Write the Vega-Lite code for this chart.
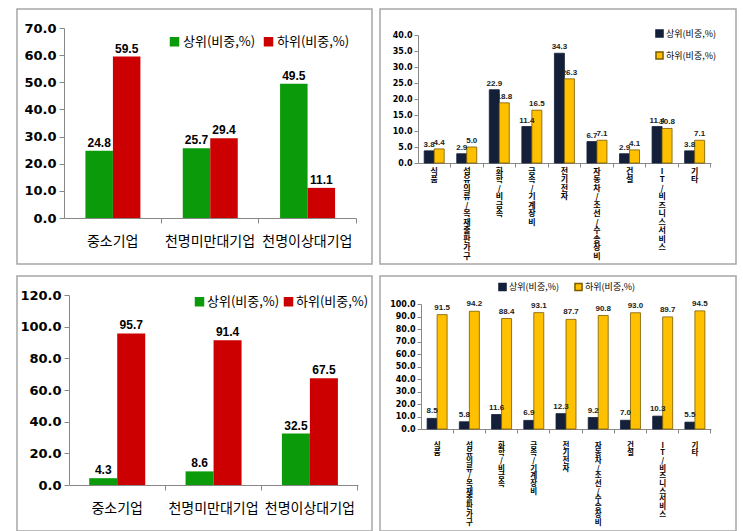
{
  "$schema": "https://vega.github.io/schema/vega-lite/v6.json",
  "padding": {"left": 16, "top": 8, "right": 0, "bottom": 0},
  "spacing": 10,
  "config": {
    "view": {"stroke": "#a6a6a6", "strokeWidth": 1.5},
    "axis": {"grid": false, "domainColor": "#888888", "tickColor": "#888888", "labelColor": "#000000", "title": null},
    "font": "Noto Sans CJK KR",
    "concat": {"spacing": 6}
  },
  "resolve": {"scale": {"color": "independent", "stroke": "independent", "x": "independent", "y": "independent", "xOffset": "independent"}, "legend": {"color": "independent", "stroke": "independent"}},
  "vconcat": [
    {
      "spacing": 6,
      "resolve": {"scale": {"color": "independent", "stroke": "independent", "x": "independent", "y": "independent", "xOffset": "independent"}, "legend": {"color": "independent", "stroke": "independent"}},
      "hconcat": [
        {
          "width": 355, "height": 255,
          "data": {"values": [
            {"cat": "중소기업", "s": "상위(비중,%)", "v": 24.8},
            {"cat": "중소기업", "s": "하위(비중,%)", "v": 59.5},
            {"cat": "천명미만대기업", "s": "상위(비중,%)", "v": 25.7},
            {"cat": "천명미만대기업", "s": "하위(비중,%)", "v": 29.4},
            {"cat": "천명이상대기업", "s": "상위(비중,%)", "v": 49.5},
            {"cat": "천명이상대기업", "s": "하위(비중,%)", "v": 11.1}
          ]},
          "resolve": {"axis": {"x": "independent"}},
          "encoding": {
            "y": {"field": "v", "type": "quantitative",
              "scale": {"domain": [0, 70], "range": [209, 19], "nice": false},
              "axis": {"offset": -47, "values": [0, 10, 20, 30, 40, 50, 60, 70], "format": ".1f", "labelFont": "DejaVu Sans", "labelFontWeight": "bold", "labelFontSize": 13, "tickSize": 5, "labelPadding": 3}},
            "xOffset": {"field": "s", "type": "nominal", "sort": "ascending", "scale": {"range": [0, 55], "paddingInner": 0, "paddingOuter": 0}}
          },
          "layer": [
            {"mark": {"type": "bar"},
             "encoding": {
               "x": {"field": "cat", "type": "nominal", "sort": null,
                 "scale": {"range": [47, 339], "paddingInner": 0.44, "paddingOuter": 0.22},
                 "axis": {"orient": "bottom", "offset": -46, "labelAngle": 0, "labelFontSize": 14, "labelFont": "Noto Sans CJK KR", "labelPadding": 16, "ticks": false, "labelBaseline": "top"}},
               "color": {"field": "s", "type": "nominal", "scale": {"range": ["#0a9a0a", "#cc0000"]},
               "legend": {"orient": "none", "legendX": 151, "legendY": 26, "direction": "horizontal", "title": null, "symbolType": "square", "symbolSize": 90, "symbolStrokeWidth": 0, "labelFontSize": 13, "labelFont": "Noto Sans CJK KR", "columnPadding": 6, "labelOffset": 2}}}},
            {"mark": {"type": "text", "dy": -8, "font": "Liberation Sans", "fontWeight": "bold", "fontSize": 12, "color": "#000"},
             "encoding": {
               "x": {"field": "cat", "type": "nominal", "sort": null,
                 "axis": {"orient": "bottom", "offset": -46, "labels": false, "domain": false, "ticks": true, "tickSize": 5, "bandPosition": 1.393}},
               "text": {"field": "v", "type": "quantitative", "format": ".1f"}}}
          ]
        },
        {
          "width": 356, "height": 255,
          "data": {"values": [
            {"cat": "식품", "s": "상위(비중,%)", "v": 3.8}, {"cat": "식품", "s": "하위(비중,%)", "v": 4.4},
            {"cat": "섬유의류/목재출판가구", "s": "상위(비중,%)", "v": 2.9}, {"cat": "섬유의류/목재출판가구", "s": "하위(비중,%)", "v": 5.0},
            {"cat": "화학/비금속", "s": "상위(비중,%)", "v": 22.9}, {"cat": "화학/비금속", "s": "하위(비중,%)", "v": 18.8},
            {"cat": "금속/기계장비", "s": "상위(비중,%)", "v": 11.4}, {"cat": "금속/기계장비", "s": "하위(비중,%)", "v": 16.5},
            {"cat": "전기전자", "s": "상위(비중,%)", "v": 34.3}, {"cat": "전기전자", "s": "하위(비중,%)", "v": 26.3},
            {"cat": "자동차/조선/수송장비", "s": "상위(비중,%)", "v": 6.7}, {"cat": "자동차/조선/수송장비", "s": "하위(비중,%)", "v": 7.1},
            {"cat": "건설", "s": "상위(비중,%)", "v": 2.9}, {"cat": "건설", "s": "하위(비중,%)", "v": 4.1},
            {"cat": "IT/비즈니스서비스", "s": "상위(비중,%)", "v": 11.4}, {"cat": "IT/비즈니스서비스", "s": "하위(비중,%)", "v": 10.8},
            {"cat": "기타", "s": "상위(비중,%)", "v": 3.8}, {"cat": "기타", "s": "하위(비중,%)", "v": 7.1}
          ]},
          "resolve": {"axis": {"x": "independent"}},
          "encoding": {
            "y": {"field": "v", "type": "quantitative",
              "scale": {"domain": [0, 40], "range": [154, 26], "nice": false},
              "axis": {"offset": -38, "values": [0, 5, 10, 15, 20, 25, 30, 35, 40], "format": ".1f", "labelFont": "DejaVu Sans", "labelFontWeight": "bold", "labelFontSize": 8, "tickSize": 4, "labelPadding": 2}},
            "xOffset": {"field": "s", "type": "nominal", "sort": "ascending", "scale": {"range": [0, 20], "paddingInner": 0, "paddingOuter": 0}}
          },
          "layer": [
            {"mark": {"type": "bar", "strokeWidth": 0.8},
             "encoding": {
               "x": {"field": "cat", "type": "nominal", "sort": null,
                 "scale": {"range": [38, 331], "paddingInner": 0.38, "paddingOuter": 0.19},
                 "axis": {"orient": "bottom", "offset": -101, "labelAngle": 0, "labelExpr": "split(datum.label, '')", "labelFontSize": 8, "labelFontWeight": "bold", "labelFont": "Noto Sans CJK KR", "labelLineHeight": 8.5, "labelPadding": 4, "ticks": false, "labelBaseline": "top", "labelOverlap": false}},
               "color": {"field": "s", "type": "nominal", "scale": {"range": ["#14203a", "#ffc000"]},
                 "legend": {"orient": "none", "legendX": 275, "legendY": 20, "direction": "vertical", "title": null, "symbolType": "square", "symbolSize": 50, "labelFontSize": 9, "labelFont": "Noto Sans CJK KR", "rowPadding": 7, "labelOffset": 2}},
               "stroke": {"field": "s", "type": "nominal", "scale": {"range": ["#14203a", "#7a5c00"]},
                 "legend": {"orient": "none", "legendX": 275, "legendY": 20, "direction": "vertical", "title": null, "symbolType": "square", "symbolSize": 50, "labelFontSize": 9, "labelFont": "Noto Sans CJK KR", "rowPadding": 7, "labelOffset": 2}}}},
            {"mark": {"type": "text", "dy": -6, "font": "Liberation Sans", "fontWeight": "bold", "fontSize": 8, "color": "#222"},
             "encoding": {
               "x": {"field": "cat", "type": "nominal", "sort": null,
                 "axis": {"orient": "bottom", "offset": -101, "labels": false, "domain": false, "ticks": true, "tickSize": 4, "bandPosition": 1.306}},
               "text": {"field": "v", "type": "quantitative", "format": ".1f"}}}
          ]
        }
      ]
    },
    {
      "spacing": 6,
      "resolve": {"scale": {"color": "independent", "stroke": "independent", "x": "independent", "y": "independent", "xOffset": "independent"}, "legend": {"color": "independent", "stroke": "independent"}},
      "hconcat": [
        {
          "width": 355, "height": 255,
          "data": {"values": [
            {"cat": "중소기업", "s": "상위(비중,%)", "v": 4.3},
            {"cat": "중소기업", "s": "하위(비중,%)", "v": 95.7},
            {"cat": "천명미만대기업", "s": "상위(비중,%)", "v": 8.6},
            {"cat": "천명미만대기업", "s": "하위(비중,%)", "v": 91.4},
            {"cat": "천명이상대기업", "s": "상위(비중,%)", "v": 32.5},
            {"cat": "천명이상대기업", "s": "하위(비중,%)", "v": 67.5}
          ]},
          "resolve": {"axis": {"x": "independent"}},
          "encoding": {
            "y": {"field": "v", "type": "quantitative",
              "scale": {"domain": [0, 120], "range": [209, 19], "nice": false},
              "axis": {"offset": -52, "values": [0, 20, 40, 60, 80, 100, 120], "format": ".1f", "labelFont": "DejaVu Sans", "labelFontWeight": "bold", "labelFontSize": 13, "tickSize": 5, "labelPadding": 3}},
            "xOffset": {"field": "s", "type": "nominal", "sort": "ascending", "scale": {"range": [0, 56], "paddingInner": 0, "paddingOuter": 0}}
          },
          "layer": [
            {"mark": {"type": "bar"},
             "encoding": {
               "x": {"field": "cat", "type": "nominal", "sort": null,
                 "scale": {"range": [52, 341], "paddingInner": 0.42, "paddingOuter": 0.21},
                 "axis": {"orient": "bottom", "offset": -46, "labelAngle": 0, "labelFontSize": 14, "labelFont": "Noto Sans CJK KR", "labelPadding": 16, "ticks": false, "labelBaseline": "top"}},
               "color": {"field": "s", "type": "nominal", "scale": {"range": ["#0a9a0a", "#cc0000"]},
               "legend": {"orient": "none", "legendX": 176, "legendY": 19, "direction": "horizontal", "title": null, "symbolType": "square", "symbolSize": 90, "symbolStrokeWidth": 0, "labelFontSize": 13, "labelFont": "Noto Sans CJK KR", "columnPadding": 2, "labelOffset": 1}}}},
            {"mark": {"type": "text", "dy": -8, "font": "Liberation Sans", "fontWeight": "bold", "fontSize": 12, "color": "#000"},
             "encoding": {
               "x": {"field": "cat", "type": "nominal", "sort": null,
                 "axis": {"orient": "bottom", "offset": -46, "labels": false, "domain": false, "ticks": true, "tickSize": 5, "bandPosition": 1.362}},
               "text": {"field": "v", "type": "quantitative", "format": ".1f"}}}
          ]
        },
        {
          "width": 356, "height": 255,
          "data": {"values": [
            {"cat": "식품", "s": "상위(비중,%)", "v": 8.5}, {"cat": "식품", "s": "하위(비중,%)", "v": 91.5},
            {"cat": "섬유의류/목재출판가구", "s": "상위(비중,%)", "v": 5.8}, {"cat": "섬유의류/목재출판가구", "s": "하위(비중,%)", "v": 94.2},
            {"cat": "화학/비금속", "s": "상위(비중,%)", "v": 11.6}, {"cat": "화학/비금속", "s": "하위(비중,%)", "v": 88.4},
            {"cat": "금속/기계장비", "s": "상위(비중,%)", "v": 6.9}, {"cat": "금속/기계장비", "s": "하위(비중,%)", "v": 93.1},
            {"cat": "전기전자", "s": "상위(비중,%)", "v": 12.3}, {"cat": "전기전자", "s": "하위(비중,%)", "v": 87.7},
            {"cat": "자동차/조선/수송장비", "s": "상위(비중,%)", "v": 9.2}, {"cat": "자동차/조선/수송장비", "s": "하위(비중,%)", "v": 90.8},
            {"cat": "건설", "s": "상위(비중,%)", "v": 7.0}, {"cat": "건설", "s": "하위(비중,%)", "v": 93.0},
            {"cat": "IT/비즈니스서비스", "s": "상위(비중,%)", "v": 10.3}, {"cat": "IT/비즈니스서비스", "s": "하위(비중,%)", "v": 89.7},
            {"cat": "기타", "s": "상위(비중,%)", "v": 5.5}, {"cat": "기타", "s": "하위(비중,%)", "v": 94.5}
          ]},
          "resolve": {"axis": {"x": "independent"}},
          "encoding": {
            "y": {"field": "v", "type": "quantitative",
              "scale": {"domain": [0, 100], "range": [153, 28], "nice": false},
              "axis": {"offset": -41, "values": [0, 10, 20, 30, 40, 50, 60, 70, 80, 90, 100], "format": ".1f", "labelFont": "DejaVu Sans", "labelFontWeight": "bold", "labelFontSize": 8, "tickSize": 4, "labelPadding": 2}},
            "xOffset": {"field": "s", "type": "nominal", "sort": "ascending", "scale": {"range": [0, 20], "paddingInner": 0, "paddingOuter": 0}}
          },
          "layer": [
            {"mark": {"type": "bar", "strokeWidth": 0.8},
             "encoding": {
               "x": {"field": "cat", "type": "nominal", "sort": null,
                 "scale": {"range": [41, 331], "paddingInner": 0.38, "paddingOuter": 0.19},
                 "axis": {"orient": "bottom", "offset": -102, "labelAngle": 0, "labelExpr": "split(datum.label, '')", "labelFontSize": 7.5, "labelFontWeight": "bold", "labelFont": "Noto Sans CJK KR", "labelLineHeight": 7.7, "labelPadding": 12, "ticks": false, "labelBaseline": "top", "labelOverlap": false}},
               "color": {"field": "s", "type": "nominal", "scale": {"range": ["#14203a", "#ffc000"]},
                 "legend": {"orient": "none", "legendX": 118, "legendY": 6, "direction": "horizontal", "title": null, "symbolType": "square", "symbolSize": 50, "labelFontSize": 9, "labelFont": "Noto Sans CJK KR", "columnPadding": 12, "labelOffset": 2}},
               "stroke": {"field": "s", "type": "nominal", "scale": {"range": ["#14203a", "#7a5c00"]},
                 "legend": {"orient": "none", "legendX": 118, "legendY": 6, "direction": "horizontal", "title": null, "symbolType": "square", "symbolSize": 50, "labelFontSize": 9, "labelFont": "Noto Sans CJK KR", "columnPadding": 12, "labelOffset": 2}}}},
            {"mark": {"type": "text", "dy": -7, "font": "Liberation Sans", "fontWeight": "bold", "fontSize": 8, "color": "#222"},
             "encoding": {
               "x": {"field": "cat", "type": "nominal", "sort": null,
                 "axis": {"orient": "bottom", "offset": -102, "labels": false, "domain": false, "ticks": true, "tickSize": 4, "bandPosition": 1.306}},
               "text": {"field": "v", "type": "quantitative", "format": ".1f"}}}
          ]
        }
      ]
    }
  ]
}
